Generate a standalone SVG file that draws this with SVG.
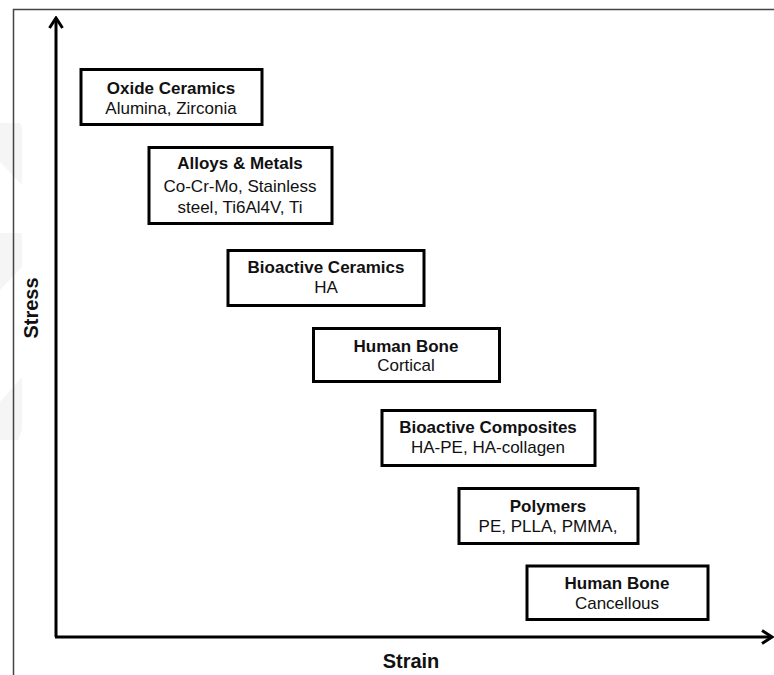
<svg xmlns="http://www.w3.org/2000/svg" width="774" height="675" viewBox="0 0 774 675">
<defs>
<style>
.box{fill:#fff;stroke:#000;stroke-width:3}
.b{font-family:"Liberation Sans",Arial,sans-serif;font-weight:bold;font-size:17px;fill:#111;text-anchor:middle}
.r{font-family:"Liberation Sans",Arial,sans-serif;font-size:17px;fill:#111;text-anchor:middle}
.axl{font-family:"Liberation Sans",Arial,sans-serif;font-weight:bold;font-size:20px;fill:#111;text-anchor:middle}
.ax{stroke:#000;stroke-width:3;fill:none}
.wm{fill:#f5f5f5}
</style>
<marker id="arr" viewBox="0 0 14 16" refX="12" refY="8" markerWidth="14" markerHeight="16" markerUnits="userSpaceOnUse" orient="auto">
<polyline points="2,1.5 12,8 2,14.5" fill="none" stroke="#000" stroke-width="3"/>
</marker>
</defs>
<rect width="774" height="675" fill="#fff"/>
<g id="watermark">
<polygon class="wm" points="0,123 20,123 22,128 22,185 0,162"/>
<polygon class="wm" points="0,233 22,233 22,267 0,290"/>
<polygon class="wm" points="0,402 22,377 22,430 18,440 0,440"/>
</g>
<g id="frame">
<polyline points="13.5,675 13.5,9.5 774,9.5" fill="none" stroke="#444" stroke-width="1.5"/>
</g>
<g id="connectors">
<line class="ax" x1="56" y1="637" x2="56" y2="18" marker-end="url(#arr)"/>
<line class="ax" x1="55" y1="637" x2="772" y2="637" marker-end="url(#arr)"/>
</g>
<g id="axis-labels">
<text class="axl" x="411" y="668">Strain</text>
<text class="axl" transform="translate(38,308) rotate(-90)">Stress</text>
</g>
<g id="oxide-ceramics">
<rect class="box" x="81" y="69.5" width="181" height="55"/>
<text class="b" x="171" y="94">Oxide Ceramics</text>
<text class="r" x="171" y="114">Alumina, Zirconia</text>
</g>
<g id="alloys-metals">
<rect class="box" x="149" y="147.5" width="183" height="76"/>
<text class="b" x="240" y="169">Alloys &amp; Metals</text>
<text class="r" x="240" y="192">Co-Cr-Mo, Stainless</text>
<text class="r" x="240" y="213">steel, Ti6Al4V, Ti</text>
</g>
<g id="bioactive-ceramics">
<rect class="box" x="228" y="250.5" width="196" height="55"/>
<text class="b" x="326" y="273">Bioactive Ceramics</text>
<text class="r" x="326" y="293">HA</text>
</g>
<g id="human-bone-cortical">
<rect class="box" x="313.5" y="328.5" width="186" height="53"/>
<text class="b" x="406" y="351.5">Human Bone</text>
<text class="r" x="406" y="371">Cortical</text>
</g>
<g id="bioactive-composites">
<rect class="box" x="382" y="410.5" width="213" height="55"/>
<text class="b" x="488" y="433">Bioactive Composites</text>
<text class="r" x="488" y="453">HA-PE, HA-collagen</text>
</g>
<g id="polymers">
<rect class="box" x="459" y="488.5" width="179" height="55"/>
<text class="b" x="548" y="511.5">Polymers</text>
<text class="r" x="548" y="531.5">PE, PLLA, PMMA,</text>
</g>
<g id="human-bone-cancellous">
<rect class="box" x="527" y="566" width="181" height="53.5"/>
<text class="b" x="617" y="589">Human Bone</text>
<text class="r" x="617" y="609">Cancellous</text>
</g>
</svg>
